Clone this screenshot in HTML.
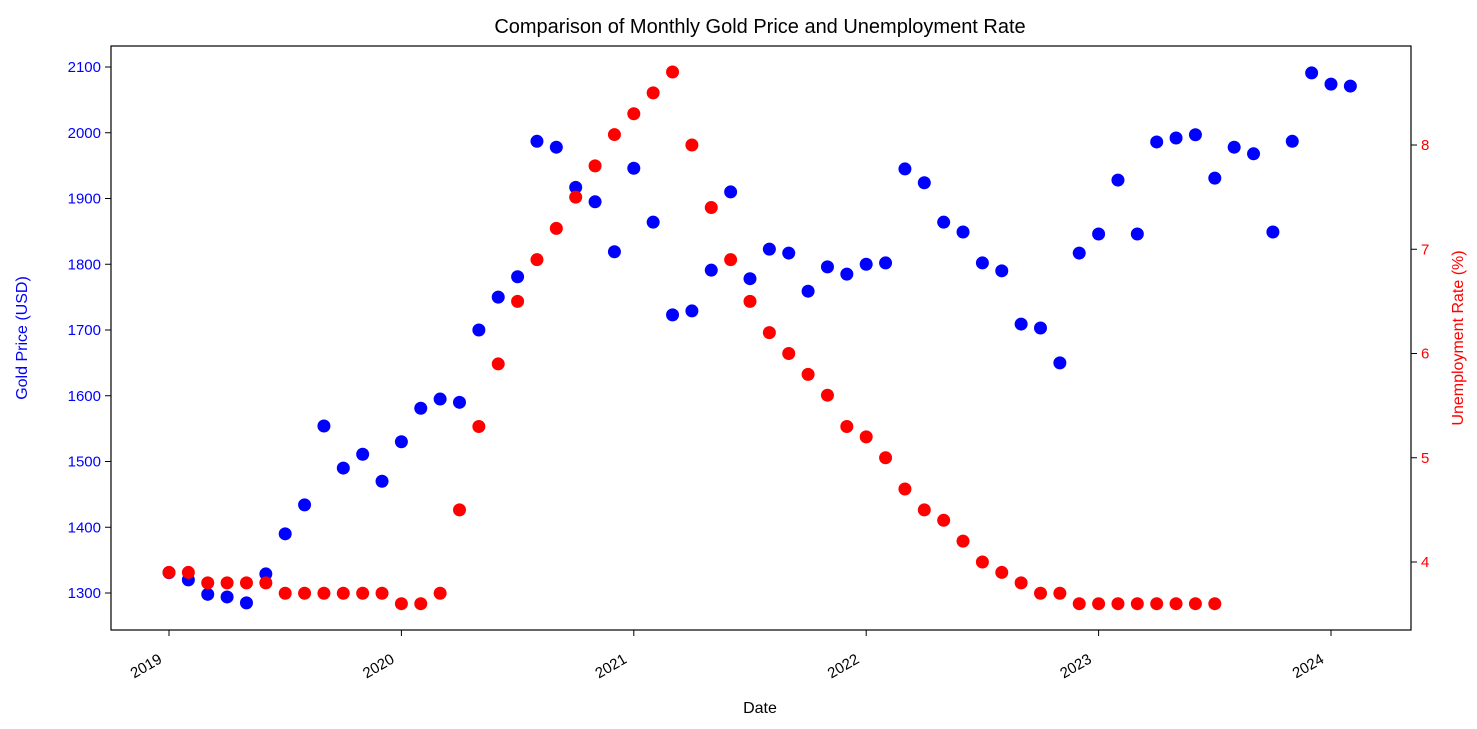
<!DOCTYPE html>
<html><head><meta charset="utf-8"><style>
body{margin:0;background:#fff;}
svg{display:block;font-family:"Liberation Sans","DejaVu Sans",sans-serif;}
</style></head><body>
<svg id="chart" width="1477" height="729">
<text x="760" y="33" text-anchor="middle" font-size="20" fill="#000">Comparison of Monthly Gold Price and Unemployment Rate</text>
<rect x="111" y="46" width="1300" height="584" fill="none" stroke="#000" stroke-width="1.2"/>
<text x="760" y="713" text-anchor="middle" font-size="16">Date</text>
<text transform="translate(27,338) rotate(-90)" text-anchor="middle" font-size="16" fill="#0000ff">Gold Price (USD)</text>
<text transform="translate(1463,338) rotate(-90)" text-anchor="middle" font-size="16" fill="#ff0000">Unemployment Rate (%)</text>
</svg>
<script>
const gold = [1331,1320,1298,1294,1285,1329,1390,1434,1554,1490,1511,1470,1530,1581,1595,1590,1700,1750,1781,1987,1978,1917,1895,1819,1946,1864,1723,1729,1791,1910,1778,1823,1817,1759,1796,1785,1800,1802,1945,1924,1864,1849,1802,1790,1709,1703,1650,1817,1846,1928,1846,1986,1992,1997,1931,1978,1968,1849,1987,2091,2074,2071];
const unemp = [3.9,3.9,3.8,3.8,3.8,3.8,3.7,3.7,3.7,3.7,3.7,3.7,3.6,3.6,3.7,4.5,5.3,5.9,6.5,6.9,7.2,7.5,7.8,8.1,8.3,8.5,8.7,8.0,7.4,6.9,6.5,6.2,6.0,5.8,5.6,5.3,5.2,5.0,4.7,4.5,4.4,4.2,4.0,3.9,3.8,3.7,3.7,3.6,3.6,3.6,3.6,3.6,3.6,3.6,3.6];
const leftTicks = [1300,1400,1500,1600,1700,1800,1900,2000,2100];
const rightTicks = [4,5,6,7,8];
const yearTicks = [2019,2020,2021,2022,2023,2024];

const svg = document.getElementById('chart');
const NS = 'http://www.w3.org/2000/svg';
const xScale = m => 169 + m * (1162/60);
const yL = v => 593 - (v - 1300) * (526/800);
const yR = v => 562 - (v - 4) * (417/4);
function mk(tag, attrs){const e=document.createElementNS(NS,tag);for(const k in attrs)e.setAttribute(k,attrs[k]);svg.appendChild(e);return e;}

leftTicks.forEach(v=>{
  const y=yL(v);
  const t=mk('line',{x1:105,x2:111,y1:y,y2:y,stroke:'#000'});
  
  
  const l=mk('text',{x:101,y:y+5,'text-anchor':'end','font-size':'15',fill:'#0000ff'});
  
  
  l.textContent=v;
});
rightTicks.forEach(v=>{
  const y=yR(v);
  const t=mk('line',{x1:1411,x2:1417,y1:y,y2:y,stroke:'#000'});
  
  
  const l=mk('text',{x:1421,y:y+5,'font-size':'15',fill:'#ff0000'});
  
  
  l.textContent=v;
});
yearTicks.forEach(yr=>{
  const x=xScale((yr-2019)*12);
  const t=mk('line',{x1:x,x2:x,y1:630,y2:636,stroke:'#000'});
  
  
  const ax=x-6, ay=662;
  const l=mk('text',{x:ax,y:ay,'text-anchor':'end','font-size':'15',transform:`rotate(-30 ${ax} ${ay})`});
  
  
  l.textContent=yr;
});
gold.forEach((v,i)=>{
  const c=mk('circle',{cx:xScale(i),cy:yL(v),r:6.5,fill:'#0000ff'});
  
  
});
unemp.forEach((v,i)=>{
  const c=mk('circle',{cx:xScale(i),cy:yR(v),r:6.5,fill:'#ff0000'});
  
  
});
</script>
</body></html>
